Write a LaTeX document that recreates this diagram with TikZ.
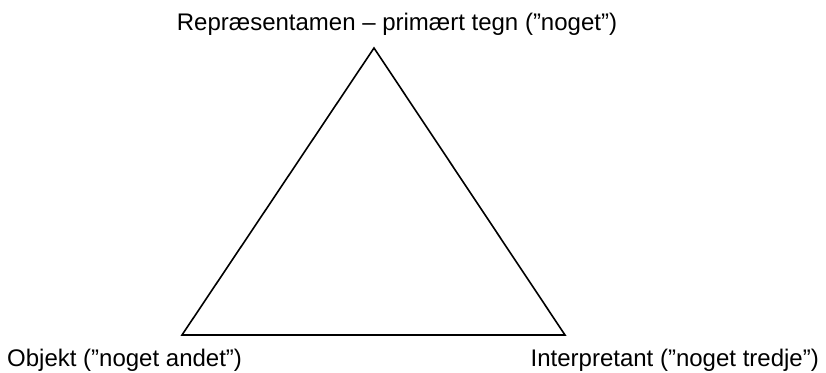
\documentclass[tikz,border=0pt]{standalone}
\usepackage{fontspec}
\setmainfont{Liberation Sans}
\begin{document}
\begin{tikzpicture}[x=1pt,y=1pt,
  lbl/.style={inner sep=0pt, font=\fontsize{24}{27}\selectfont},
  edge/.style={line width=1.6pt, line join=miter}]
\useasboundingbox (0,0) rectangle (826,372);
\coordinate (R) at (374,324);
\coordinate (O) at (182,37);
\coordinate (I) at (565,37);
\draw[edge] (R) -- (O) -- (I) -- cycle;
\node[lbl, anchor=base] (tR) at (397,341) {Repræsentamen – primært tegn (”noget”)};
\node[lbl, anchor=base west] (tO) at (7,6) {Objekt (”noget andet”)};
\node[lbl, anchor=base east] (tI) at (819,6) {Interpretant (”noget tredje”)};
\end{tikzpicture}
\end{document}
